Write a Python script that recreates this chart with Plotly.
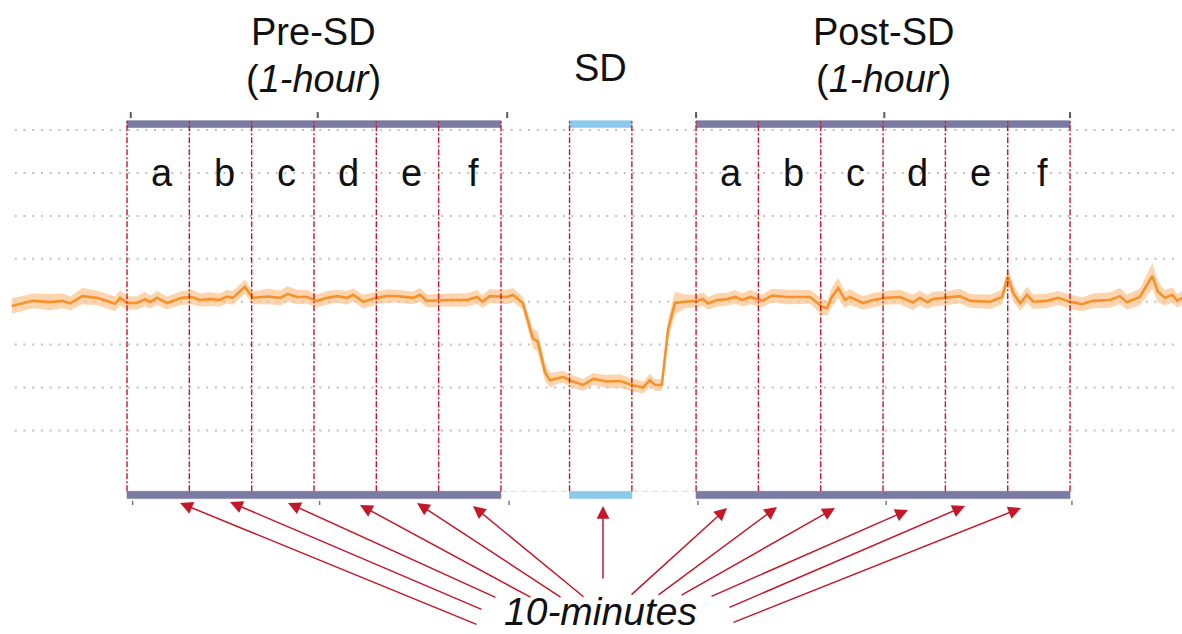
import plotly.graph_objects as go

# ---------------- data (minutes, normalised signal) ----------------
time_min = [-18.5, -15.1, -12.4, -10.4, -9.1, -7.2, -4.8, -2.7, -1.9, -1.1,
            0.0, 1.6, 2.9, 3.7, 4.8, 6.4, 8.8, 10.4, 11.7, 13.3,
            14.9, 16.0, 17.0, 18.9, 20.2, 22.5, 24.6, 25.8, 27.3, 28.9,
            30.5, 32.1, 33.7, 35.3, 36.3, 37.9, 40.1, 41.7, 43.3, 45.9,
            47.0, 48.1, 51.4, 54.6, 56.2, 57.0, 58.2, 61.0, 61.9, 63.5,
            64.3, 65.1, 65.9, 67.1, 67.9, 69.0, 70.0, 71.1, 73.2, 74.8,
            77.0, 79.1, 81.0, 82.8, 83.9, 84.7, 85.8, 86.8, 87.9, 89.5,
            91.5, 92.4, 93.2, 94.7, 96.3, 97.6, 98.7, 100.0, 101.9, 103.5,
            105.9, 109.6, 111.5, 112.3, 113.1, 114.1, 115.2, 116.0, 118.1, 119.7,
            121.6, 124.0, 126.1, 127.2, 128.4, 129.3, 131.6, 133.6, 135.3, 138.5,
            140.4, 141.3, 142.2, 143.3, 144.4, 145.4, 147.6, 149.4, 151.3, 153.2,
            155.0, 157.7, 159.3, 160.4, 162.5, 164.5, 165.4, 166.5, 167.7, 168.5,
            169.3]

signal = [-0.10, 0.02, -0.01, 0.02, -0.04, 0.13, 0.09, -0.01, -0.05, 0.09,
          -0.03, -0.03, 0.06, -0.01, 0.09, -0.03, 0.09, 0.11, 0.04, 0.06,
          0.04, 0.12, 0.09, 0.35, 0.09, 0.12, 0.09, 0.18, 0.11, 0.11,
          0.02, 0.09, 0.13, 0.09, 0.16, 0.00, 0.09, 0.13, 0.13, 0.09,
          0.16, 0.02, 0.04, 0.04, 0.11, 0.00, 0.13, 0.11, 0.16, -0.03,
          -0.43, -0.85, -0.93, -1.66, -1.83, -1.78, -1.75, -1.84, -1.94, -1.80,
          -1.86, -1.85, -1.94, -2.00, -1.83, -1.94, -1.94, -0.66, -0.03, 0.00,
          0.02, 0.06, -0.04, 0.04, 0.06, 0.11, 0.04, 0.11, 0.02, 0.14,
          0.11, 0.11, -0.12, -0.15, 0.11, 0.32, 0.04, 0.11, -0.03, 0.04,
          0.09, 0.11, -0.02, 0.09, -0.01, 0.06, 0.09, 0.13, 0.02, 0.00,
          0.11, 0.58, 0.20, -0.04, 0.16, 0.00, 0.02, 0.09, 0.00, -0.06,
          0.02, 0.04, 0.13, -0.01, 0.11, 0.60, 0.23, 0.09, 0.16, 0.02,
          0.09]

sem = [0.18, 0.17, 0.19, 0.17, 0.16, 0.19, 0.17, 0.16, 0.17, 0.18,
       0.16, 0.15, 0.17, 0.15, 0.16, 0.15, 0.16, 0.17, 0.15, 0.16,
       0.15, 0.16, 0.16, 0.17, 0.15, 0.18, 0.17, 0.18, 0.17, 0.16,
       0.15, 0.16, 0.15, 0.16, 0.15, 0.16, 0.15, 0.16, 0.15, 0.15,
       0.16, 0.15, 0.15, 0.16, 0.16, 0.15, 0.16, 0.17, 0.16, 0.15,
       0.18, 0.22, 0.24, 0.20, 0.17, 0.14, 0.14, 0.15, 0.14, 0.14,
       0.15, 0.16, 0.15, 0.14, 0.15, 0.14, 0.14, 0.24, 0.27, 0.16,
       0.15, 0.16, 0.15, 0.16, 0.15, 0.16, 0.15, 0.17, 0.15, 0.16,
       0.17, 0.16, 0.19, 0.17, 0.22, 0.24, 0.19, 0.18, 0.16, 0.17,
       0.16, 0.17, 0.18, 0.17, 0.16, 0.17, 0.16, 0.17, 0.16, 0.17,
       0.17, 0.20, 0.20, 0.17, 0.19, 0.17, 0.17, 0.16, 0.17, 0.16,
       0.17, 0.18, 0.19, 0.18, 0.19, 0.30, 0.24, 0.18, 0.17, 0.16,
       0.16]

# epoch boundaries (minutes)
pre_edges = [0, 10, 20, 30, 40, 50, 60]
sd_edges = [71, 81]
post_edges = [91.3, 101.3, 111.3, 121.3, 131.3, 141.3, 151.3]
segment_labels = ["a", "b", "c", "d", "e", "f"]
tick_minutes = [0.6, 30.6, 61.0, 91.3, 121.5, 151.3]
grid_levels = [4, 3, 2, 1, 0, -1, -2, -3]

# ---------------- styling constants ----------------
FONT = "Liberation Sans, Arial, sans-serif"
ORANGE = "rgb(246,146,44)"
BAND = "rgba(250,190,130,0.65)"
RED = "rgb(196,24,40)"
BAR = "rgb(122,122,162)"
SDBAR = "rgb(140,202,236)"
GRID = "rgb(192,192,192)"

X_RANGE = [-20.375, 169.26]
Y_RANGE = [-7.746, 7.033]

upper = [v + s for v, s in zip(signal, sem)]
lower = [v - s for v, s in zip(signal, sem)]

fig = go.Figure()
fig.add_trace(go.Scatter(x=time_min, y=upper, mode="lines", line=dict(width=0),
                         hoverinfo="skip", showlegend=False))
fig.add_trace(go.Scatter(x=time_min, y=lower, mode="lines", line=dict(width=0),
                         fill="tonexty", fillcolor=BAND, hoverinfo="skip", showlegend=False))
fig.add_trace(go.Scatter(x=time_min, y=signal, mode="lines",
                         line=dict(color=ORANGE, width=2.6), showlegend=False))

shapes = []
# dotted grid
for g in grid_levels:
    shapes.append(dict(type="line", xref="x", yref="y", x0=-18.0, x1=168.8, y0=g, y1=g,
                       line=dict(color=GRID, width=2, dash="2px,6.7px"), layer="below"))

TOP_Y0, TOP_Y1 = 4.06, 4.22
BOT_Y0, BOT_Y1 = -4.59, -4.42

# bars
for (a, b, col) in [(pre_edges[0], pre_edges[-1], BAR), (sd_edges[0], sd_edges[1], SDBAR),
                    (post_edges[0], post_edges[-1], BAR)]:
    for (y0, y1) in [(TOP_Y0, TOP_Y1), (BOT_Y0, BOT_Y1)]:
        shapes.append(dict(type="rect", xref="x", yref="y", x0=a, x1=b, y0=y0, y1=y1,
                           fillcolor=col, line=dict(width=0.6, color=col), layer="above"))

# faint link lines in the gaps at the bottom
for (a, b) in [(pre_edges[-1], sd_edges[0]), (sd_edges[1], post_edges[0])]:
    shapes.append(dict(type="line", xref="x", yref="y", x0=a, x1=b, y0=BOT_Y1, y1=BOT_Y1,
                       line=dict(color="rgb(225,215,215)", width=1, dash="6px,4px"), layer="below"))

# red dash-dot boundaries
for e in pre_edges + sd_edges + post_edges:
    shapes.append(dict(type="line", xref="x", yref="y", x0=e, x1=e, y0=BOT_Y1, y1=TOP_Y1,
                       line=dict(color=RED, width=1.4, dash="6px,2px,2px,2px"), layer="above"))

# small ticks
for t in tick_minutes:
    shapes.append(dict(type="line", xref="x", yref="y", x0=t, x1=t, y0=4.28, y1=4.42,
                       line=dict(color="rgb(90,90,90)", width=2)))
    shapes.append(dict(type="line", xref="x", yref="y", x0=t + 0.3, x1=t + 0.3, y0=-4.64, y1=-4.74,
                       line=dict(color="rgb(120,120,120)", width=1.5)))

annotations = []


def txt(x, y, s, size=38, italic=False):
    annotations.append(dict(x=x, y=y, xref="x", yref="y", text=s, showarrow=False,
                            font=dict(family=FONT, size=size, color="#111111",
                                      style="italic" if italic else "normal"),
                            xanchor="center", yanchor="middle"))


pre_mid = (pre_edges[0] + pre_edges[-1]) / 2
post_mid = (post_edges[0] + post_edges[-1]) / 2
sd_mid = (sd_edges[0] + sd_edges[1]) / 2
txt(pre_mid, 6.28, "Pre-SD")
txt(pre_mid, 5.18, "(<i>1-hour</i>)")
txt(sd_mid, 5.45, "SD")
txt(post_mid, 6.28, "Post-SD")
txt(post_mid, 5.18, "(<i>1-hour</i>)")
for edges in (pre_edges, post_edges):
    for i, lab in enumerate(segment_labels):
        txt((edges[i] + edges[i + 1]) / 2 + 0.6, 3.0, lab)
txt(sd_mid, -7.23, "10-minutes", size=39, italic=True)

# arrows: (tail px, head px) in figure pixels
arrows = [((478, 625), (180, 503)), ((483, 610), (230, 502)), ((497, 598), (288, 503)),
          ((532, 598), (360, 505)), ((562, 598), (417, 503)), ((585, 598), (473, 506)),
          ((603, 580), (603, 506)),
          ((630, 596), (727, 508)), ((657, 596), (777, 507)), ((680, 596), (835, 508)),
          ((710, 597), (908, 510)), ((728, 608), (965, 506)), ((732, 623), (1021, 508))]
W, H = 1182, 634
for (tx, ty), (hx, hy) in arrows:
    annotations.append(dict(x=hx / W, y=1 - hy / H, xref="paper", yref="paper",
                            ax=tx - hx, ay=ty - hy, axref="pixel", ayref="pixel",
                            text="", showarrow=True, arrowhead=2, arrowsize=1.7,
                            arrowwidth=1.5, arrowcolor=RED, standoff=0, startstandoff=0))

fig.update_layout(
    width=W, height=H, margin=dict(l=0, r=0, t=0, b=0),
    paper_bgcolor="white", plot_bgcolor="white",
    xaxis=dict(range=X_RANGE, visible=False, fixedrange=True),
    yaxis=dict(range=Y_RANGE, visible=False, fixedrange=True),
    shapes=shapes, annotations=annotations, showlegend=False,
)
fig.write_html("out.html")
